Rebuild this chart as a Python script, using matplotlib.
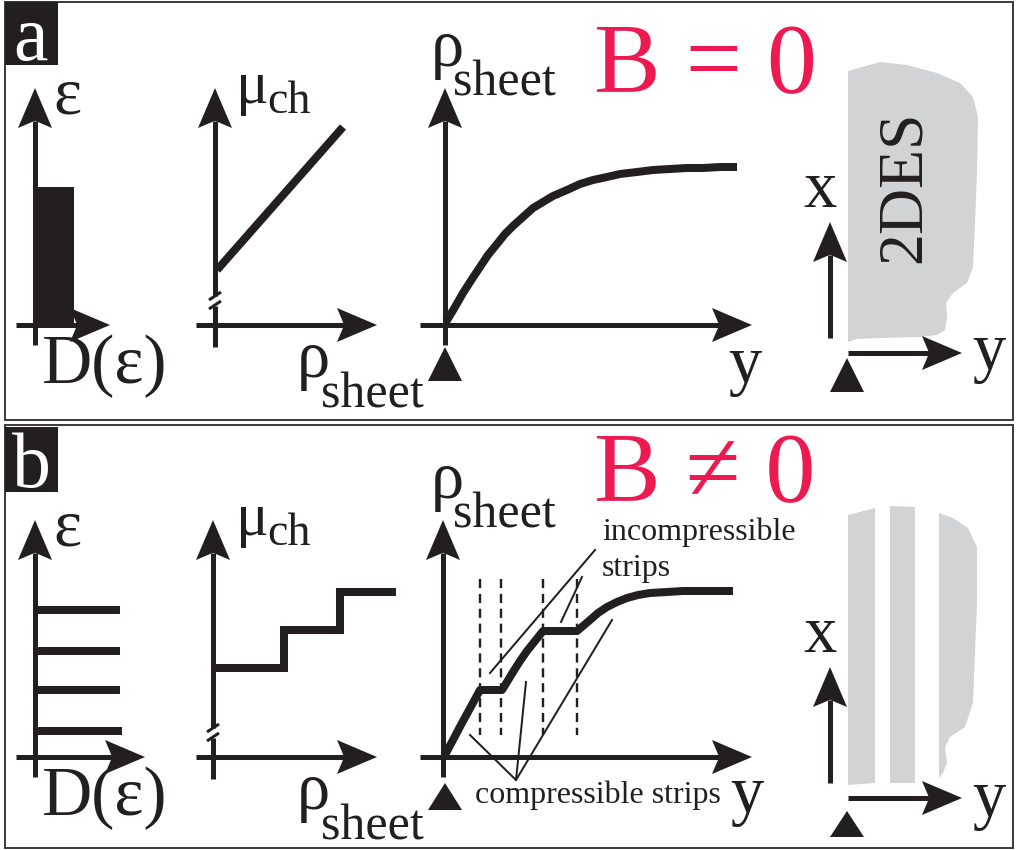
import numpy as np
import matplotlib
matplotlib.use("Agg")
import matplotlib.pyplot as plt
from matplotlib.patches import Polygon, Rectangle

plt.rcParams['font.family'] = ['Liberation Serif', 'DejaVu Serif']

# ---------------- data (pixel coordinates of the schematic) ----------------
# panel a : density of states bar
dos_bar_x = [37, 74]
dos_bar_y = [187, 325]
# panel b : Landau levels
dos_levels_b = [610, 651, 690, 731]
dos_level_end_b = [120, 120, 120, 122]

# chemical potential vs sheet density
mu_a_x = [217, 343]
mu_a_y = [270, 127]
mu_b_x = [213, 284, 284, 340, 340, 396]
mu_b_y = [668, 668, 630, 630, 592, 592]

# sheet density profiles
rho_a_x = [446, 455, 463, 472, 480, 488, 497, 505, 513, 523, 533, 543, 553,
           567, 580, 593, 607, 620, 637, 653, 670, 687, 703, 720, 737]
rho_a_y = [322, 307, 293, 279, 267, 255, 244, 234, 226, 217, 208, 202, 196,
           190, 184, 180, 177, 174, 172, 170, 169, 168, 168, 167, 167]
rho_b_x = [445, 462, 480, 502, 507, 513, 520, 527, 535, 543, 577, 583, 590,
           598, 607, 617, 627, 638, 650, 667, 683, 700, 733]
rho_b_y = [755, 723, 690, 690, 682, 672, 661, 651, 641, 631, 631, 626, 620,
           613, 607, 602, 598, 595, 593, 592, 591, 591, 591]

# strip boundaries (dashed)
strip_x = [480, 501, 543, 577]
strip_y = [579, 735]

# annotation pointer lines
incomp_x = [[490, 595], [561, 582]]
incomp_y = [[673, 550], [622, 577]]
comp_x = [[470, 516, 526], [516, 612]]
comp_y = [[735, 780, 682], [780, 620]]

# 2DES shapes
sheet_a_x = [848, 880, 907, 937, 960, 973, 978, 977, 975, 973, 967, 953, 946,
             947, 945, 937, 920, 880, 857, 848]
sheet_a_y = [71, 62, 65, 73, 83, 97, 117, 173, 223, 267, 283, 293, 303,
             317, 330, 335, 337, 338, 339, 342]
stripe1_x = [848, 875, 875, 848]
stripe1_y = [515, 508, 783, 785]
stripe2_x = [890, 915, 915, 890]
stripe2_y = [506, 507, 783, 783]
stripe3_x = [939, 953, 968, 977, 977, 975, 973, 965, 950, 945, 947, 943, 939]
stripe3_y = [513, 518, 528, 547, 603, 653, 703, 727, 737, 747, 763, 773, 778]

INK = '#231F20'
RED = '#EC1A50'
GRAY = '#D1D3D4'

fig = plt.figure(figsize=(10.16, 8.5), dpi=100)
ax = fig.add_axes([0, 0, 1, 1])
ax.set_xlim(0, 1016)
ax.set_ylim(850, 0)
ax.axis('off')

PX = 72 / 100.0  # points per pixel


def arrow(x0, y0, x1, y1, lw=5, hl=40, hw=17):
    d = np.array([x1 - x0, y1 - y0], float)
    L = np.hypot(*d)
    u = d / L
    n = np.array([-u[1], u[0]])
    tip = np.array([x1, y1], float)
    base = tip - u * hl
    notch = tip - u * hl * 0.82
    ax.plot([x0, notch[0]], [y0, notch[1]], color=INK, lw=lw * PX,
            solid_capstyle='butt')
    pts = [tip, base + n * hw, notch, base - n * hw]
    ax.add_patch(Polygon(pts, closed=True, color=INK, lw=0))


def line(xs, ys, lw, **kw):
    ax.plot(xs, ys, color=INK, lw=lw * PX, **kw)


def tri(xc, ytop, ybot, hw=17):
    ax.add_patch(Polygon([[xc, ytop], [xc + hw, ybot], [xc - hw, ybot]],
                         closed=True, color=INK, lw=0))


def txt(x, y, s, size, color=INK, ha='left', **kw):
    ax.text(x, y, s, fontsize=size, color=color, ha=ha, va='baseline', **kw)


def rho_label(x, y, size_r=48, size_s=36, dx=21, dy=29):
    txt(x, y, 'ρ', size_r)
    txt(x + dx, y + dy, 'sheet', size_s)


# ---------------- frames ----------------
for (y0, y1) in [(2, 420), (425, 848)]:
    ax.add_patch(Rectangle((5, y0), 1008, y1 - y0, fill=False,
                           ec='#3a3a3a', lw=1.4))

# panel letters
for (yb, ybox0, ybox1, s) in [(60, 2, 65, 'a'), (487, 427, 492, 'b')]:
    ax.add_patch(Rectangle((5, ybox0), 53, ybox1 - ybox0, color=INK, lw=0))
    txt(31, yb, s, 56, color='white', ha='center')

# ---------------- column 1 : DOS ----------------
for off in [0, 432]:
    arrow(35, 345 + off, 35, 88 + off)
    arrow(16, 325 + off, 110 + (35 if off else 0), 325 + off)
    txt(53, 113 + off, 'ε', 48)
    txt(42, 383 + off, 'D(ε)', 50)

ax.add_patch(Rectangle((dos_bar_x[0], dos_bar_y[0]), dos_bar_x[1] - dos_bar_x[0],
                       dos_bar_y[1] - dos_bar_y[0], color=INK, lw=0))
for yl, xe in zip(dos_levels_b, dos_level_end_b):
    line([37, xe], [yl, yl], 8, solid_capstyle='butt')

# ---------------- column 2 : mu_ch ----------------
for off, xa in [(0, 215), (432, 213)]:
    arrow(xa, 296 + off, xa, 88 + off)
    line([xa, xa], [306 + off, 347 + off], 5, solid_capstyle='butt')
    for yy in [296, 305]:
        line([xa - 6, xa + 6], [yy + off + 4, yy + off - 4], 3,
             solid_capstyle='butt')
    arrow(196, 325 + off, 377, 325 + off)
    txt(236, 103 + off, 'μ', 44)
    txt(267, 113 + off, 'ch', 33)
    rho_label(297, 377 + off, dx=24, dy=30)

line(mu_a_x, mu_a_y, 8, solid_capstyle='butt')
line(mu_b_x, mu_b_y, 8, solid_capstyle='butt', solid_joinstyle='miter')

# ---------------- column 3 : rho_sheet(y) ----------------
for off, xa in [(0, 445), (432, 443)]:
    arrow(xa, 345 + off, xa, 88 + off)
    arrow(420, 325 + off, 752, 325 + off)
    rho_label(431, 66 + off, dx=22, dy=29)
txt(728, 383, 'y', 48)
txt(730, 813, 'y', 48)
tri(445, 347, 381)
tri(445, 783, 810)

line(rho_a_x, rho_a_y, 8, solid_capstyle='butt', solid_joinstyle='round')
line(rho_b_x, rho_b_y, 8, solid_capstyle='butt', solid_joinstyle='round')

for xs in strip_x:
    line([xs, xs], strip_y, 2.4, linestyle=(0, (3.8, 2.4)))
for xs, ys in zip(incomp_x, incomp_y):
    line(xs, ys, 2)
for xs, ys in zip(comp_x, comp_y):
    line(xs, ys, 2)

txt(602, 540, 'incompressible', 23)
txt(602, 576, 'strips', 23)
txt(475, 803, 'compressible strips', 23)

txt(594, 92, 'B = 0', 72, color=RED)
txt(594, 501, 'B ≠ 0', 72, color=RED)

# ---------------- column 4 : 2DES sketch ----------------
ax.add_patch(Polygon(np.column_stack([sheet_a_x, sheet_a_y]), closed=True,
                     color=GRAY, lw=0))
for sx, sy in [(stripe1_x, stripe1_y), (stripe2_x, stripe2_y),
               (stripe3_x, stripe3_y)]:
    ax.add_patch(Polygon(np.column_stack([sx, sy]), closed=True,
                         color=GRAY, lw=0))
ax.text(905, 187, '2DES', fontsize=46, color=INK, rotation=90,
        ha='center', va='center')

for (ytip, ybot, yy, xb, yb, tt, tb) in [(222, 338, 353, 207, 370, 358, 392),
                                        (667, 783, 798, 652, 817, 811, 837)]:
    arrow(830, ybot, 830, ytip)
    arrow(848, yy, 962, yy)
    txt(820, xb, 'x', 48, ha='center')
    txt(972, yb, 'y', 48)
    tri(847, tt, tb)

fig.savefig('out.png', dpi=100)
